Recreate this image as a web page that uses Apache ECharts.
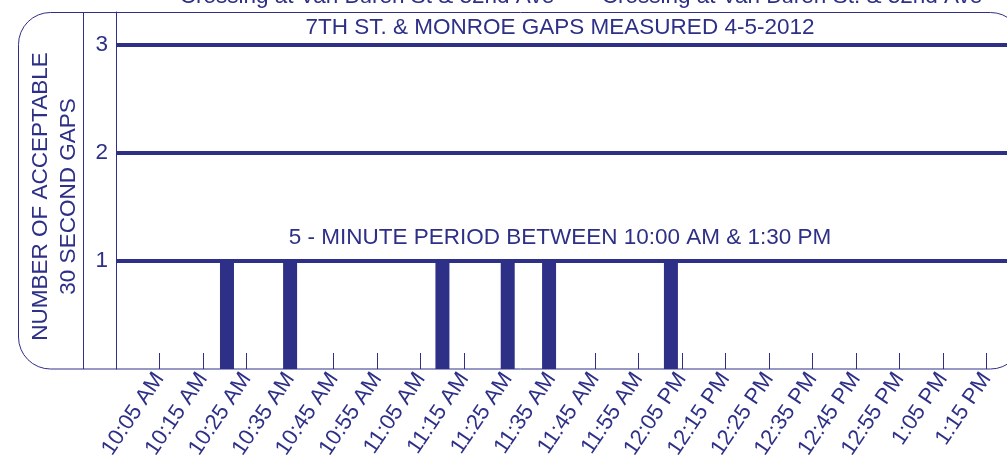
<!DOCTYPE html>
<html>
<head>
<meta charset="utf-8">
<script src="https://cdn.jsdelivr.net/npm/echarts@6/dist/echarts.min.js"></script>
<style>
  html, body { margin: 0; padding: 0; background: #fff; }
  #chart { width: 1007px; height: 460px; }
</style>
</head>
<body>
<div id="chart"></div>
<script>
// x values are minutes after 9:55 AM, one bar per 5-minute period with a gap
const gapMinutes = [25.5, 40, 75, 90, 99.5, 127.5];
const gapCounts = [1, 1, 1, 1, 1, 1];

// labelled ticks every 10 minutes (10 -> 10:05 AM)
const tickLabels = [
  "10:05 AM", "10:15 AM", "10:25 AM", "10:35 AM", "10:45 AM", "10:55 AM",
  "11:05 AM", "11:15 AM", "11:25 AM", "11:35 AM", "11:45 AM", "11:55 AM",
  "12:05 PM", "12:15 PM", "12:25 PM", "12:35 PM", "12:45 PM", "12:55 PM",
  "1:05 PM", "1:15 PM"
];

const yTicks = [1, 2, 3];

const NAVY = "#2e3087";
const FONT = "'Liberation Sans', Arial, sans-serif";
const FS = 22.5;

const chart = echarts.init(document.getElementById("chart"), null, { renderer: "canvas" });

const titleStyle = { fontSize: FS, fontWeight: "normal", color: NAVY, fontFamily: FONT };

const option = {
  animation: false,
  backgroundColor: "#fff",
  textStyle: { fontFamily: FONT, color: NAVY },
  title: [
    { text: "Crossing at Van Buren St & 32nd Ave", left: 367, top: -15, padding: 0, textAlign: "center", textStyle: titleStyle },
    { text: "Crossing at Van Buren St. & 32nd Ave", left: 792, top: -15, padding: 0, textAlign: "center", textStyle: titleStyle },
    { text: "7TH ST. & MONROE GAPS MEASURED 4-5-2012", left: 560, top: 16, padding: 0, textAlign: "center", textStyle: titleStyle },
    { text: "5 - MINUTE PERIOD BETWEEN 10:00 AM & 1:30 PM", left: 560, top: 226, padding: 0, textAlign: "center", textStyle: titleStyle }
  ],
  grid: { left: 116, right: -23, top: 12, bottom: 91, outerBoundsMode: "none", containLabel: false },
  xAxis: {
    type: "value",
    min: 0,
    max: 210,
    interval: 10,
    axisLine: { show: false },
    axisTick: { show: true, inside: true, length: 16, lineStyle: { color: NAVY, width: 1 } },
    splitLine: { show: false },
    axisLabel: {
      rotate: 56,
      margin: 6,
      fontSize: 22,
      color: NAVY,
      fontFamily: FONT,
      showMinLabel: false,
      showMaxLabel: false,
      hideOverlap: false,
      formatter: (v) => {
        const i = v / 10 - 1;
        return Number.isInteger(i) && i >= 0 && i < tickLabels.length ? tickLabels[i] : "";
      }
    }
  },
  yAxis: {
    type: "value",
    min: 0,
    max: 3.3,
    interval: 1,
    name: "NUMBER OF ACCEPTABLE\n30 SECOND GAPS",
    nameLocation: "middle",
    nameRotate: 90,
    nameGap: 33,
    nameTextStyle: { fontSize: FS, lineHeight: 28, color: NAVY, fontFamily: FONT, padding: [0, 12, 0, 0] },
    axisLine: { show: true, lineStyle: { color: NAVY, width: 1 } },
    axisTick: { show: false },
    axisLabel: {
      margin: 8,
      fontSize: FS,
      color: NAVY,
      fontFamily: FONT,
      formatter: (v) => (yTicks.indexOf(v) >= 0 ? String(v) : "")
    },
    splitLine: {
      show: true,
      showMinLine: false,
      showMaxLine: false,
      lineStyle: { color: NAVY, width: 4 }
    }
  },
  graphic: [
    {
      type: "rect",
      silent: true,
      z: 10,
      shape: { x: 18.5, y: 12.5, width: 1004, height: 356.5, r: 32 },
      style: { fill: null, stroke: NAVY, lineWidth: 1 }
    },
    {
      type: "line",
      silent: true,
      z: 10,
      shape: { x1: 83.5, y1: 12.5, x2: 83.5, y2: 369 },
      style: { stroke: NAVY, lineWidth: 1 }
    }
  ],
  series: [
    {
      type: "bar",
      barWidth: 14,
      itemStyle: { color: NAVY },
      data: gapMinutes.map((m, i) => [m, gapCounts[i]])
    }
  ]
};

chart.setOption(option);
</script>
</body>
</html>
